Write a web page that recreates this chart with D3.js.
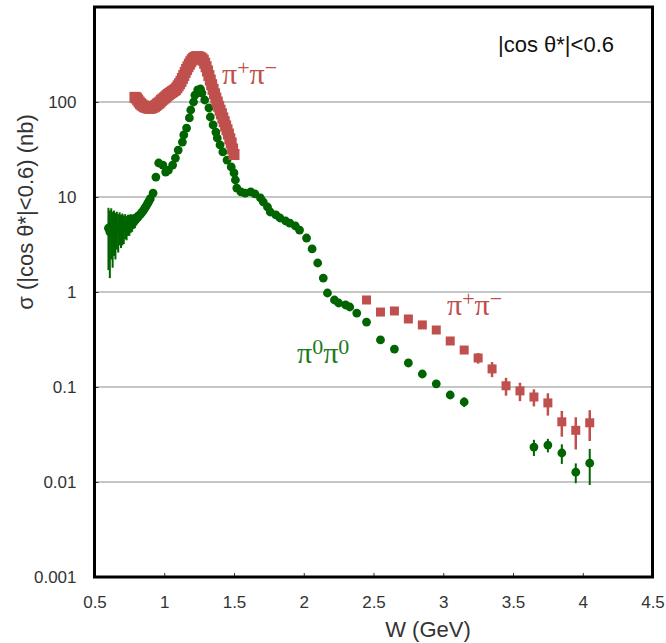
<!DOCTYPE html>
<html><head><meta charset="utf-8">
<script src="https://cdn.jsdelivr.net/npm/d3@7"></script>
<style>body{margin:0;background:#fff}svg{display:block}</style>
</head><body>
<svg id="chart" width="666" height="643"></svg>
<script>
// ---------- data ----------
const xTicks = [0.5, 1, 1.5, 2, 2.5, 3, 3.5, 4, 4.5];
const xTickLabels = ["0.5","1","1.5","2","2.5","3","3.5","4","4.5"];
const yTicks = [0.001, 0.01, 0.1, 1, 10, 100];
const yTickLabels = ["0.001","0.01","0.1","1","10","100"];
const yGrid = [0.01, 0.1, 1, 10, 100];

// pi+pi- low-W band
const pmLowW = [0.79,0.80,0.81,0.82,0.83,0.84,0.85,0.86,0.87,0.88,0.89,0.90,0.91,0.92,0.93,0.94,0.95,0.96,0.97,0.98,0.99,
  1.00,1.01,1.02,1.03,1.04,1.05,1.06,1.07,1.08,1.09,1.10,1.11,1.12,1.13,1.14,1.15,1.16,1.17,1.18,1.19,
  1.20,1.21,1.22,1.23,1.24,1.25,1.26,1.27,1.28,1.29,1.30,1.31,1.32,1.33,1.34,1.35,1.36,1.37,1.38,1.39,
  1.40,1.41,1.42,1.43,1.44,1.45,1.46,1.47,1.48,1.49,1.50];
const pmLowSigma = [112,110,105,100,96,93,91,89,88,87,86,86,87,88,90,92,95,97,100,104,107,
  110,113,117,120,123,126,129,132,135,141,148,156,165,177,190,205,220,235,250,265,
  278,288,295,299,300,297,292,285,275,256,235,212,190,170,152,136,122,110,100,90,
  82,75,68,62,56,51,46,41,37,32,28];

// pi+pi- high-W points
const pmHighW = [2.45,2.55,2.65,2.75,2.85,2.95,3.05,3.15,3.25,3.35,3.45,3.55,3.65,3.75,3.85,3.95,4.05];
const pmHighSigma = [0.824,0.615,0.631,0.52,0.45,0.398,0.305,0.245,0.202,0.155,0.103,0.091,0.0785,0.068,0.043,0.035,0.042];
const pmHighErr = [0.03,0.025,0.025,0.02,0.02,0.018,0.016,0.015,0.026,0.028,0.022,0.02,0.016,0.018,0.013,0.013,0.015];

// pi0pi0
const p0W = [0.60,0.61,0.62,0.63,0.64,0.65,0.66,0.67,0.68,0.69,0.70,0.71,0.72,0.73,0.74,0.75,0.76,0.77,0.78,0.79,
  0.80,0.81,0.82,0.83,0.84,0.85,0.86,0.87,0.88,0.89,0.90,
  0.92,0.94,0.96,0.99,1.01,1.03,1.06,1.08,1.10,1.13,1.14,1.16,1.18,1.19,1.21,1.22,1.24,1.26,1.27,1.29,
  1.32,1.33,1.35,1.37,1.38,1.40,1.42,1.45,1.48,1.50,1.51,1.52,1.55,1.58,1.62,1.65,1.69,1.71,1.74,1.76,
  1.80,1.83,1.87,1.90,1.94,1.97,2.02,2.06,2.10,2.14,2.17,2.22,2.25,2.30,2.33,2.38,
  2.45,2.55,2.65,2.75,2.85,2.95,3.05,3.15,3.65,3.75,3.85,3.95,4.05];
const p0Sigma = [4.7,4.3,4.9,4.4,4.8,4.5,4.9,4.6,5.0,4.7,4.9,4.8,5.1,4.9,5.2,5.2,5.4,5.4,5.6,5.7,
  5.9,6.1,6.4,6.6,6.9,7.2,7.6,8.0,8.5,9.0,9.6,
  11.0,16.2,22.8,21.7,18.3,19.2,21.7,25.7,31.2,37.9,45.0,53.2,67.9,82.4,100,118,134,137,124,105,
  86.5,69.5,57.3,48.3,41.8,35.3,29.8,24.5,20.7,17.9,15.1,12.4,11.3,11.0,11.3,10.8,9.76,8.86,7.85,6.95,
  6.47,6.01,5.59,5.32,4.95,4.49,3.70,2.84,2.02,1.40,0.976,0.824,0.766,0.73,0.695,0.60,
  0.483,0.313,0.251,0.179,0.137,0.108,0.0824,0.0695,0.0233,0.0245,0.0202,0.0127,0.0158];
const p0Err = [3.0,2.9,2.7,2.6,2.4,2.3,2.1,2.0,1.9,1.8,1.8,1.6,1.5,1.4,1.3,1.3,1.2,1.1,1.0,1.0,
  0.9,0.8,0.8,0.7,0.7,0.6,0.6,0.6,0.6,0.6,0.6,
  0,0,0,0,0,0,0,0,0,0,0,0,0,0,0,0,0,0,0,0,
  0,0,0,0,0,0,0,0,0,0,0,0,0,0,0,0,0,0,0,0,
  0,0,0,0,0,0,0,0,0,0,0,0,0,0,0,0,
  0.01,0.008,0.006,0.005,0.005,0.005,0.005,0.008,0.0045,0.004,0.0047,0.003,0.0065];

// ---------- layout ----------
const RED = "#c0504d", GREEN = "#006400";
const SANS = "Liberation Sans, Arial, sans-serif";
const svg = d3.select("#chart");
const L = 94.5, R = 652.5, T = 7, B = 577;
const x = d3.scaleLinear().domain([0.5, 4.5]).range([L, R]);
const y = d3.scaleLog().domain([0.001, 1000]).range([B, T]);

// gridlines
svg.append("g").selectAll("line").data(yGrid).join("line")
  .attr("x1", L).attr("x2", R).attr("y1", d => y(d)).attr("y2", d => y(d))
  .attr("stroke", "#b3b3b3").attr("stroke-width", 1.5);

// axes (ticks inward)
const xAxis = d3.axisBottom(x).tickValues(xTicks).tickFormat((d,i) => xTickLabels[i]).tickSize(-4).tickPadding(19);
const gx = svg.append("g").attr("transform", `translate(0,${B})`).call(xAxis);
gx.select(".domain").remove();
gx.selectAll("line").attr("stroke", "#333");
gx.selectAll("text").attr("font-family", SANS).attr("font-size", 17).attr("fill", "#333");

const yAxis = d3.axisLeft(y).tickValues(yTicks).tickFormat((d,i) => yTickLabels[i]).tickSize(-4).tickPadding(18);
const gy = svg.append("g").attr("transform", `translate(${L},0)`).call(yAxis);
gy.select(".domain").remove();
gy.selectAll("line").attr("stroke", "#333");
gy.selectAll("text").attr("font-family", SANS).attr("font-size", 17).attr("fill", "#333");

// frame
svg.append("rect").attr("x", L).attr("y", T).attr("width", R - L).attr("height", B - T)
  .attr("fill", "none").attr("stroke", "#000").attr("stroke-width", 3);

const clampLo = v => Math.max(v, 0.0011);

// pi0pi0 error bars + markers
const p0 = p0W.map((w,i) => ({w, s: p0Sigma[i], e: p0Err[i]}));
svg.append("g").selectAll("line").data(p0.filter(d => d.e > 0)).join("line")
  .attr("x1", d => x(d.w)).attr("x2", d => x(d.w))
  .attr("y1", d => y(d.s + d.e)).attr("y2", d => y(clampLo(d.s - d.e)))
  .attr("stroke", GREEN).attr("stroke-width", 2);
svg.append("g").selectAll("circle").data(p0).join("circle")
  .attr("cx", d => x(d.w)).attr("cy", d => y(d.s)).attr("r", 4.4).attr("fill", GREEN);

// pi+pi- low band
const pmLow = pmLowW.map((w,i) => ({w, s: pmLowSigma[i]}));
const SQ = 11;
svg.append("g").selectAll("rect").data(pmLow).join("rect")
  .attr("x", d => x(d.w) - SQ/2).attr("y", d => y(d.s) - SQ/2)
  .attr("width", SQ).attr("height", SQ).attr("fill", RED);

// pi+pi- high points
const pmHigh = pmHighW.map((w,i) => ({w, s: pmHighSigma[i], e: pmHighErr[i]}));
svg.append("g").selectAll("line").data(pmHigh).join("line")
  .attr("x1", d => x(d.w)).attr("x2", d => x(d.w))
  .attr("y1", d => y(d.s + d.e)).attr("y2", d => y(clampLo(d.s - d.e)))
  .attr("stroke", RED).attr("stroke-width", 2.5);
const SQ2 = 9;
svg.append("g").selectAll("rect").data(pmHigh).join("rect")
  .attr("x", d => x(d.w) - SQ2/2).attr("y", d => y(d.s) - SQ2/2)
  .attr("width", SQ2).attr("height", SQ2).attr("fill", RED);

// labels
function piLabel(px, py, sup1, sup2, color) {
  const t = svg.append("text").attr("x", px).attr("y", py)
    .attr("font-family", "Liberation Serif, Times New Roman, serif").attr("font-size", 30).attr("fill", color);
  t.append("tspan").text("π");
  t.append("tspan").attr("dy", -9).attr("font-size", 22).text(sup1);
  t.append("tspan").attr("dy", 9).text("π");
  t.append("tspan").attr("dy", -9).attr("font-size", 22).text(sup2);
}
piLabel(222, 84, "+", "−", RED);
piLabel(447, 315, "+", "−", RED);
piLabel(297, 363, "0", "0", "#1f7a1f");

svg.append("text").attr("x", 498).attr("y", 52)
  .attr("font-family", SANS).attr("font-size", 22).attr("fill", "#111")
  .text("|cos θ*|<0.6");

svg.append("text").attr("x", 428).attr("y", 637).attr("text-anchor", "middle")
  .attr("font-family", SANS).attr("font-size", 22).attr("fill", "#333")
  .text("W (GeV)");

svg.append("text").attr("transform", "translate(33,212) rotate(-90)").attr("text-anchor", "middle")
  .attr("font-family", SANS).attr("font-size", 22).attr("fill", "#333")
  .text("σ (|cos θ*|<0.6) (nb)");
</script>
</body></html>
